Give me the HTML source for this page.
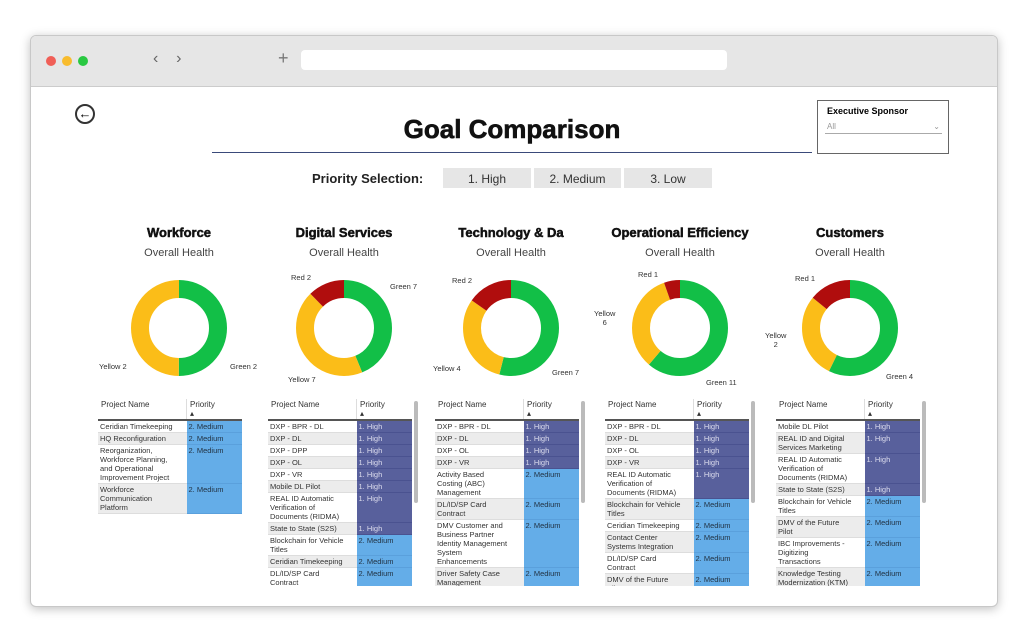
<!DOCTYPE html>
<html><head><style>
body{margin:0;width:1024px;height:635px;background:#fff;position:relative;overflow:hidden;font-family:"Liberation Sans",sans-serif}
.win{position:absolute;left:30px;top:35px;width:966px;height:570px;border:1px solid #c8c8c8;border-radius:6px;box-shadow:0 2px 10px rgba(0,0,0,.25);overflow:hidden;background:#fff}
.bar{position:absolute;left:0;top:0;width:100%;height:50px;background:#e6e6e6;border-bottom:1px solid #ccc}
.dot{position:absolute;top:20px;width:10px;height:10px;border-radius:50%}
.url{position:absolute;left:270px;top:14px;width:426px;height:20px;background:#fff;border-radius:4px}
.a{position:absolute}
.t{position:absolute;font-size:13px;font-weight:bold;color:#111;text-align:center;width:160px;-webkit-text-stroke:0.5px #111}
.oh{position:absolute;font-size:11px;color:#444;text-align:center;width:160px}
.lab{position:absolute;font-size:7.5px;color:#333;white-space:nowrap}
table{position:absolute;border-collapse:collapse;font-size:7.5px;color:#333}
td{padding:1px 2px;vertical-align:top;line-height:9px}
th{font-weight:normal;text-align:left;padding:1px 3px;font-size:8px;border-bottom:2px solid #555;height:14px;vertical-align:top;line-height:9px}
.h{background:#58609c;color:#dde}
.m{background:#64ade8;color:#234}
.sb{position:absolute;width:4px;background:#bbb;border-radius:2px}
.btn{position:absolute;top:168px;height:20px;background:#e6e6e6;font-size:12px;color:#333;text-align:center;line-height:22px}
</style></head><body>
<div class="win">
<div class="bar">
<div class="dot" style="left:15px;background:#f05f57"></div>
<div class="dot" style="left:31px;background:#f8bc2e"></div>
<div class="dot" style="left:47px;background:#29c841"></div>
<div class="a" style="left:122px;top:14px;font-size:16px;color:#666">‹&nbsp;&nbsp;&nbsp;&nbsp;›</div>
<div class="a" style="left:247px;top:12px;font-size:18px;color:#777">+</div>
<div class="url"></div>
</div>
</div>
<div class="a" style="left:75px;top:104px;width:16px;height:16px;border:2px solid #333;border-radius:50%;font-size:13px;line-height:15px;text-align:center">←</div>
<div class="a" style="left:212px;top:114px;width:600px;text-align:center;font-size:26px;font-weight:bold;color:#111;-webkit-text-stroke:0.6px #111">Goal Comparison</div>
<div class="a" style="left:212px;top:152px;width:600px;height:1px;background:#3a4a7a"></div>
<div class="a" style="left:817px;top:100px;width:130px;height:52px;border:1px solid #666;background:#fff">
<div style="font-size:9px;font-weight:bold;margin:5px 0 0 9px">Executive Sponsor</div>
<div style="margin:4px 6px 0 7px;border-bottom:1px solid #aaa;font-size:8px;color:#999;padding:2px">All<span style="float:right">⌄</span></div></div>
<div class="a" style="left:312px;top:171px;font-size:13px;font-weight:bold;color:#222">Priority Selection:</div>
<div class="btn" style="left:443px;width:88px">1. High</div>
<div class="btn" style="left:534px;width:87px">2. Medium</div>
<div class="btn" style="left:624px;width:88px">3. Low</div>
<div id="c"></div>
<script>
var cols=[
{x:179,title:"Workforce",d:[2,2,0],labs:[["Green 2",230,362],["Yellow 2",99,362]],tx:98,rows:[["Ceridian Timekeeping",1,"m"],["HQ Reconfiguration",1,"m"],["Reorganization,<br>Workforce Planning,<br>and Operational<br>Improvement Project",4,"m"],["Workforce<br>Communication<br>Platform",3,"m"]],sb:0},
{x:344,title:"Digital Services",d:[7,7,2],labs:[["Green 7",390,282],["Yellow 7",288,375],["Red 2",291,273]],tx:268,rows:[["DXP - BPR - DL",1,"h"],["DXP - DL",1,"h"],["DXP - DPP",1,"h"],["DXP - OL",1,"h"],["DXP - VR",1,"h"],["Mobile DL Pilot",1,"h"],["REAL ID Automatic<br>Verification of<br>Documents (RIDMA)",3,"h"],["State to State (S2S)",1,"h"],["Blockchain for Vehicle<br>Titles",2,"m"],["Ceridian Timekeeping",1,"m"],["DL/ID/SP Card<br>Contract",2,"m"]],sb:1},
{x:511,title:"Technology & Da",d:[7,4,2],labs:[["Green 7",552,368],["Yellow 4",433,364],["Red 2",452,276]],tx:435,rows:[["DXP - BPR - DL",1,"h"],["DXP - DL",1,"h"],["DXP - OL",1,"h"],["DXP - VR",1,"h"],["Activity Based<br>Costing (ABC)<br>Management",3,"m"],["DL/ID/SP Card<br>Contract",2,"m"],["DMV Customer and<br>Business Partner<br>Identity Management<br>System<br>Enhancements",5,"m"],["Driver Safety Case<br>Management",2,"m"]],sb:1},
{x:680,title:"Operational Efficiency",d:[11,6,1],labs:[["Green 11",706,378],["Yellow<br>6",594,309],["Red 1",638,270]],tx:605,rows:[["DXP - BPR - DL",1,"h"],["DXP - DL",1,"h"],["DXP - OL",1,"h"],["DXP - VR",1,"h"],["REAL ID Automatic<br>Verification of<br>Documents (RIDMA)",3,"h"],["Blockchain for Vehicle<br>Titles",2,"m"],["Ceridian Timekeeping",1,"m"],["Contact Center<br>Systems Integration",2,"m"],["DL/ID/SP Card<br>Contract",2,"m"],["DMV of the Future<br>Pilot",2,"m"]],sb:1},
{x:850,title:"Customers",d:[4,2,1],labs:[["Green 4",886,372],["Yellow<br>2",765,331],["Red 1",795,274]],tx:776,rows:[["Mobile DL Pilot",1,"h"],["REAL ID and Digital<br>Services Marketing",2,"h"],["REAL ID Automatic<br>Verification of<br>Documents (RIDMA)",3,"h"],["State to State (S2S)",1,"h"],["Blockchain for Vehicle<br>Titles",2,"m"],["DMV of the Future<br>Pilot",2,"m"],["IBC Improvements -<br>Digitizing<br>Transactions",3,"m"],["Knowledge Testing<br>Modernization (KTM)",2,"m"]],sb:1}];
var h="",C=2*Math.PI*39,cl=["#12bf47","#fbbd18","#b00d0d"];
cols.forEach(function(c){
h+='<div class="t" style="left:'+(c.x-80)+'px;top:225px">'+c.title+'</div><div class="oh" style="left:'+(c.x-80)+'px;top:247px">Overall Health</div>';
var tot=c.d[0]+c.d[1]+c.d[2],s=0,svg='<svg class="a" style="left:'+(c.x-50)+'px;top:278px" width="100" height="100"><g transform="rotate(-90 50 50)">';
c.d.forEach(function(v,i){var l=v/tot*C;if(v)svg+='<circle cx="50" cy="50" r="39" fill="none" stroke="'+cl[i]+'" stroke-width="18" stroke-dasharray="'+l+' '+C+'" stroke-dashoffset="'+(-s)+'"/>';s+=l;});
h+=svg+'</g></svg>';
c.labs.forEach(function(l){h+='<div class="lab" style="left:'+l[1]+'px;top:'+l[2]+'px;text-align:center">'+l[0]+'</div>';});
var t='<div class="a" style="left:'+c.tx+'px;top:399px;width:150px;height:187px;overflow:hidden"><table style="left:0;top:0;width:144px"><tr><th style="width:82px">Project Name</th><th style="border-left:1px solid #ddd">Priority<br>▴</th></tr>';
c.rows.forEach(function(r,i){var txt=r[2]=="h"?"1. High":"2. Medium";t+='<tr><td style="background:'+(i%2?"#ececec":"#fff")+';border-bottom:1px solid #ddd">'+r[0]+'</td><td class="'+r[2]+'" style="border-bottom:1px solid '+(r[2]=="h"?"#4a5290":"#5aa0dc")+'">'+txt+'</td></tr>';});
h+=t+'</table></div>';
if(c.sb)h+='<div class="sb" style="left:'+(c.tx+146)+'px;top:401px;height:102px"></div>';
});
document.getElementById("c").innerHTML=h;
</script>
</body></html>
